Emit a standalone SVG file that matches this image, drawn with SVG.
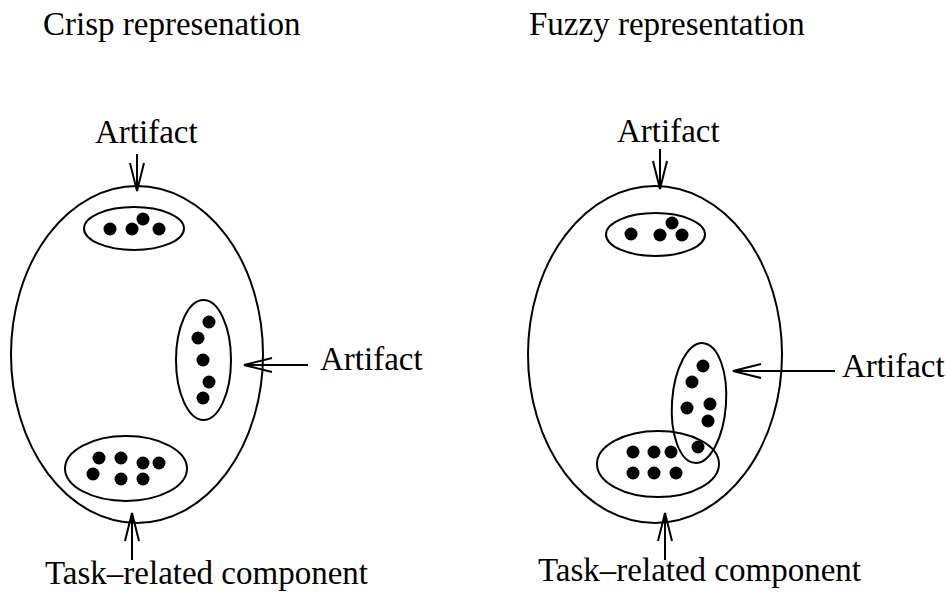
<svg xmlns="http://www.w3.org/2000/svg" width="947" height="594" viewBox="0 0 947 594">
<defs>
<style>
text{font-family:"Liberation Serif","Times New Roman",serif;font-size:33px;fill:#000}
.o{fill:none;stroke:#000;stroke-width:2}
.d{fill:#000}
.c{fill:none;stroke:#000;stroke-width:2}
</style>
<marker id="ah" viewBox="0 0 30 16" refX="29" refY="8" markerWidth="30" markerHeight="16" markerUnits="userSpaceOnUse" orient="auto">
<path d="M1,1 L29,8 L1,15" fill="none" stroke="#000" stroke-width="2"/>
</marker>
</defs>
<rect width="947" height="594" fill="#fff"/>
<text x="43" y="35">Crisp represenation</text>
<text x="529" y="35">Fuzzy representation</text>

<g id="crisp">
<ellipse class="o" cx="137" cy="354.5" rx="126" ry="168.5"/>
<g id="crisp-top">
<ellipse class="o" cx="134" cy="228.5" rx="50" ry="21.5"/>
<circle class="d" cx="110" cy="229" r="6.5"/><circle class="d" cx="132" cy="229" r="6.5"/><circle class="d" cx="143" cy="219" r="6.5"/><circle class="d" cx="159" cy="229" r="6.5"/>
</g>
<g id="crisp-right">
<ellipse class="o" cx="203.5" cy="360" rx="27.5" ry="60"/>
<circle class="d" cx="209" cy="322" r="6.5"/><circle class="d" cx="198" cy="338" r="6.5"/><circle class="d" cx="203" cy="360" r="6.5"/><circle class="d" cx="209" cy="382" r="6.5"/><circle class="d" cx="203" cy="398" r="6.5"/>
</g>
<g id="crisp-bottom">
<ellipse class="o" cx="126" cy="468.5" rx="61" ry="32.5"/>
<circle class="d" cx="99" cy="458" r="6.5"/><circle class="d" cx="121" cy="458" r="6.5"/><circle class="d" cx="143" cy="463" r="6.5"/><circle class="d" cx="159" cy="463" r="6.5"/><circle class="d" cx="93" cy="474" r="6.5"/><circle class="d" cx="121" cy="479" r="6.5"/><circle class="d" cx="143" cy="479" r="6.5"/>
</g>
<text x="95" y="143">Artifact</text>
<text x="320" y="370">Artifact</text>
<text x="45" y="584">Task–related component</text>
</g>

<g id="fuzzy">
<ellipse class="o" cx="655" cy="354.5" rx="127" ry="168.5"/>
<g id="fuzzy-top">
<ellipse class="o" cx="655.5" cy="234.5" rx="49.5" ry="21.5"/>
<circle class="d" cx="631" cy="234" r="6.5"/><circle class="d" cx="660" cy="235" r="6.5"/><circle class="d" cx="672" cy="223" r="6.5"/><circle class="d" cx="682" cy="235" r="6.5"/>
</g>
<g id="fuzzy-bottom">
<ellipse class="o" cx="658" cy="464" rx="61" ry="33"/>
<circle class="d" cx="633" cy="452" r="6.5"/><circle class="d" cx="654" cy="452" r="6.5"/><circle class="d" cx="671" cy="452" r="6.5"/><circle class="d" cx="633" cy="473" r="6.5"/><circle class="d" cx="654" cy="473" r="6.5"/><circle class="d" cx="676" cy="473" r="6.5"/>
</g>
<g id="fuzzy-tilted">
<ellipse class="o" cx="699" cy="403" rx="27" ry="60" transform="rotate(4 699 403)"/>
<circle class="d" cx="703" cy="366" r="6.5"/><circle class="d" cx="692" cy="382" r="6.5"/><circle class="d" cx="687" cy="408" r="6.5"/><circle class="d" cx="710" cy="404" r="6.5"/><circle class="d" cx="708" cy="421" r="6.5"/><circle class="d" cx="698" cy="447" r="6.5"/>
</g>
<text x="617" y="142">Artifact</text>
<text x="842" y="377">Artifact</text>
<text x="538" y="581">Task–related component</text>
</g>

<g id="connectors">
<line class="c" x1="137" y1="154" x2="137" y2="191" marker-end="url(#ah)"/>
<line class="c" x1="308" y1="365" x2="244" y2="365" marker-end="url(#ah)"/>
<line class="c" x1="132" y1="560" x2="132" y2="513" marker-end="url(#ah)"/>
<line class="c" x1="660" y1="149" x2="660" y2="189" marker-end="url(#ah)"/>
<line class="c" x1="835" y1="371" x2="733" y2="371" marker-end="url(#ah)"/>
<line class="c" x1="665" y1="560" x2="665" y2="513" marker-end="url(#ah)"/>
</g>
</svg>
